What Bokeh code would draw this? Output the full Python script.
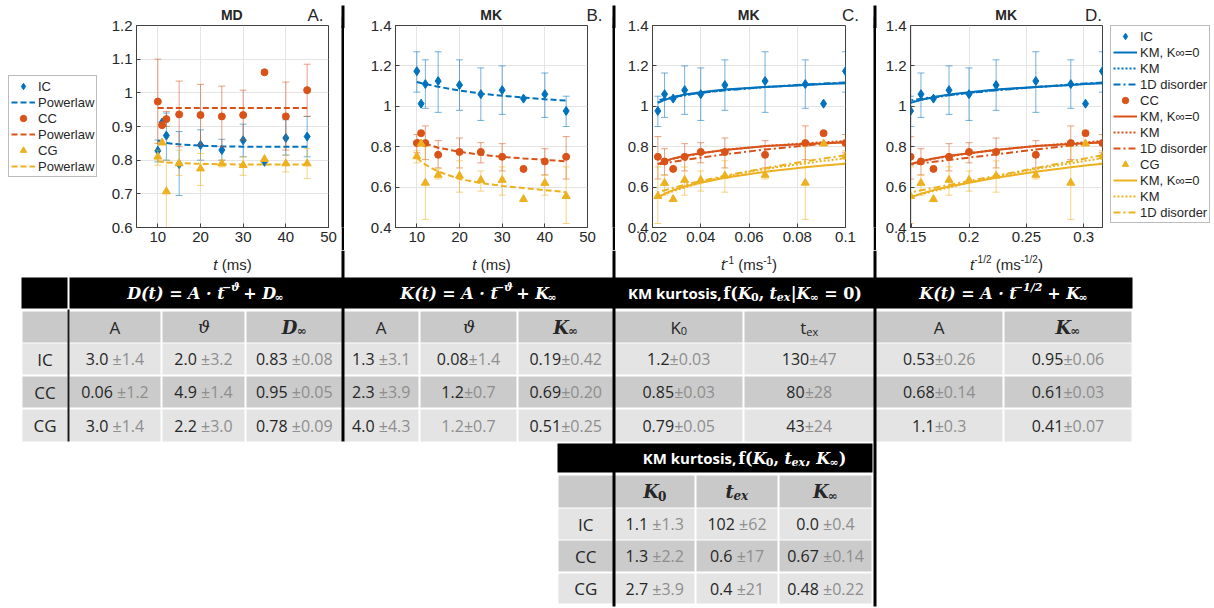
import numpy as np
from bokeh.plotting import figure
from bokeh.layouts import row, column
from bokeh.models import (Range1d, FixedTicker, Legend, LegendItem, ColumnDataSource, Spacer)
from bokeh.embed import file_html
from bokeh.resources import INLINE

# ------------------------------------------------------------------ data
t_ms = [10, 11, 12, 15, 20, 25, 30, 35, 40, 45]
groups = ["IC", "CC", "CG"]

# Panel A : MD
md_ic    = [0.828, 0.912, 0.873, 0.788, 0.845, 0.830, 0.859, 0.795, 0.866, 0.870]
md_ic_lo = [0.795, 0.912, 0.800, 0.695, 0.800, 0.800, 0.810, 0.795, 0.815, 0.810]
md_ic_hi = [0.860, 0.912, 0.940, 0.885, 0.890, 0.862, 0.907, 0.795, 0.920, 0.930]
md_cc    = [0.974, 0.904, 0.922, 0.936, 0.934, 0.930, 0.934, 1.061, 0.930, 1.008]
md_cc_lo = [0.850, 0.904, 0.900, 0.840, 0.845, 0.840, 0.860, 1.061, 0.830, 0.930]
md_cc_hi = [1.100, 0.904, 0.945, 1.035, 1.025, 1.020, 1.008, 1.061, 1.032, 1.085]
md_cg    = [0.810, 0.852, 0.707, 0.790, 0.775, 0.790, 0.785, 0.803, 0.790, 0.790]
md_cg_lo = [0.785, 0.852, 0.580, 0.755, 0.725, 0.780, 0.755, 0.803, 0.765, 0.745]
md_cg_hi = [0.830, 0.852, 0.800, 0.830, 0.820, 0.800, 0.810, 0.803, 0.815, 0.835]
md_pow_ic = [0.858, 0.855, 0.851, 0.847, 0.843, 0.841, 0.840, 0.840, 0.840, 0.840]
md_pow_cc = [0.955, 0.955, 0.955, 0.955, 0.955, 0.955, 0.955, 0.955, 0.955, 0.955]
md_pow_cg = [0.797, 0.795, 0.793, 0.791, 0.789, 0.788, 0.787, 0.787, 0.787, 0.787]

# Panels B-D : MK
mk_ic    = [1.174, 1.013, 1.110, 1.125, 1.105, 1.060, 1.080, 1.038, 1.060, 0.977]
mk_ic_lo = [1.070, 1.013, 0.990, 0.970, 0.980, 0.930, 0.960, 1.038, 0.945, 0.900]
mk_ic_hi = [1.270, 1.013, 1.230, 1.270, 1.230, 1.190, 1.200, 1.038, 1.165, 1.050]
mk_cc    = [0.818, 0.867, 0.818, 0.760, 0.774, 0.774, 0.750, 0.690, 0.727, 0.750]
mk_cc_lo = [0.770, 0.867, 0.736, 0.695, 0.695, 0.720, 0.680, 0.690, 0.660, 0.640]
mk_cc_hi = [0.860, 0.867, 0.903, 0.830, 0.843, 0.820, 0.815, 0.690, 0.790, 0.850]
mk_cg    = [0.752, 0.815, 0.621, 0.660, 0.656, 0.635, 0.635, 0.540, 0.620, 0.555]
mk_cg_lo = [0.720, 0.815, 0.440, 0.640, 0.575, 0.580, 0.560, 0.540, 0.560, 0.420]
mk_cg_hi = [0.780, 0.815, 0.800, 0.690, 0.730, 0.680, 0.700, 0.540, 0.660, 0.700]
mk_pow_ic = [1.120, 1.115, 1.110, 1.097, 1.078, 1.063, 1.052, 1.043, 1.035, 1.028]
mk_pow_cc = [0.835, 0.825, 0.815, 0.795, 0.775, 0.760, 0.750, 0.742, 0.735, 0.728]
mk_pow_cg = [0.745, 0.727, 0.711, 0.677, 0.640, 0.620, 0.606, 0.595, 0.585, 0.575]
# model curves (KM with K_inf=0, KM, 1D disorder)
km0_ic = [1.114, 1.110, 1.106, 1.096, 1.083, 1.070, 1.058, 1.045, 1.032, 1.017]
km_ic  = [1.115, 1.111, 1.106, 1.095, 1.080, 1.067, 1.055, 1.043, 1.032, 1.020]
d1_ic  = [1.118, 1.113, 1.108, 1.095, 1.079, 1.066, 1.055, 1.046, 1.037, 1.029]
km0_cc = [0.821, 0.817, 0.813, 0.803, 0.784, 0.768, 0.755, 0.742, 0.728, 0.714]
km_cc  = [0.828, 0.822, 0.817, 0.803, 0.785, 0.767, 0.752, 0.740, 0.727, 0.713]
d1_cc  = [0.825, 0.815, 0.806, 0.786, 0.762, 0.746, 0.734, 0.725, 0.718, 0.711]
km0_cg = [0.716, 0.707, 0.698, 0.676, 0.646, 0.622, 0.603, 0.585, 0.567, 0.549]
km_cg  = [0.742, 0.730, 0.718, 0.690, 0.652, 0.622, 0.598, 0.580, 0.565, 0.552]
d1_cg  = [0.758, 0.742, 0.728, 0.694, 0.656, 0.630, 0.611, 0.596, 0.584, 0.574]

# tick marks / labels
xt_t = [10, 20, 30, 40, 50];             xt_t_lbl = ["10", "20", "30", "40", "50"]
xt_inv = [0.02, 0.04, 0.06, 0.08, 0.1];  xt_inv_lbl = ["0.02", "0.04", "0.06", "0.08", "0.1"]
xt_sq = [0.15, 0.2, 0.25, 0.3];          xt_sq_lbl = ["0.15", "0.2", "0.25", "0.3"]
yt_md = [0.6, 0.7, 0.8, 0.9, 1.0, 1.1, 1.2]
yt_md_lbl = ["0.6", "0.7", "0.8", "0.9", "1", "1.1", "1.2"]
yt_mk = [0.4, 0.6, 0.8, 1.0, 1.2, 1.4]
yt_mk_lbl = ["0.4", "0.6", "0.8", "1", "1.2", "1.4"]

panel_titles = ["MD", "MK", "MK", "MK"]
panel_letters = ["A.", "B.", "C.", "D."]

# table values
row_names = ["IC", "CC", "CG"]
D_A, D_A_e = ["3.0", "0.06", "3.0"], [" ±1.4", " ±1.2", " ±1.4"]
D_th, D_th_e = ["2.0", "4.9", "2.2"], [" ±3.2", " ±1.4", " ±3.0"]
D_inf, D_inf_e = ["0.83", "0.95", "0.78"], [" ±0.08", " ±0.05", " ±0.09"]
K_A, K_A_e = ["1.3", "2.3", "4.0"], [" ±3.1", " ±3.9", " ±4.3"]
K_th, K_th_e = ["0.08", "1.2", "1.2"], ["±1.4", "±0.7", "±0.7"]
K_inf, K_inf_e = ["0.19", "0.69", "0.51"], ["±0.42", "±0.20", "±0.25"]
KM0_K0, KM0_K0_e = ["1.2", "0.85", "0.79"], ["±0.03", "±0.03", "±0.05"]
KM0_tex, KM0_tex_e = ["130", "80", "43"], ["±47", "±28", "±24"]
OD_A, OD_A_e = ["0.53", "0.68", "1.1"], ["±0.26", "±0.14", "±0.3"]
OD_inf, OD_inf_e = ["0.95", "0.61", "0.41"], ["±0.06", "±0.03", "±0.07"]
KM_K0, KM_K0_e = ["1.1", "1.3", "2.7"], [" ±1.3", " ±2.2", " ±3.9"]
KM_tex, KM_tex_e = ["102", "0.6", "0.4"], [" ±62", " ±17", " ±21"]
KM_inf, KM_inf_e = ["0.0", "0.67", "0.48"], [" ±0.4", " ±0.14", " ±0.22"]

# ------------------------------------------------------------------ style
BLUE, ORANGE, YELLOW = "#0072BD", "#D95319", "#EDB120"
COL = {"IC": BLUE, "CC": ORANGE, "CG": YELLOW}
MARK = {"IC": "diamond", "CC": "circle", "CG": "triangle"}
MSIZE = {"IC": 9, "CC": 7, "CG": 8}
AXC = "#404040"
TXT = "#262626"
SANS_AX = "Liberation Sans"
PAGE_W = 1214
STRIP_H = 28         # page y 0 .. 28 (titles)
OVERLAP = 12         # chart row starts at y 16, under the strip's lower part
ROW_H = 234          # chart row: page y 16 .. 250
FR_TOP, FR_H = 9, 202
FR_BOT = ROW_H - FR_TOP - FR_H
BOT_H = 358          # page y 250 .. 608


def blank(width, height, xr, yr):
    f = figure(width=width, height=height, x_range=Range1d(*xr), y_range=Range1d(*yr),
               output_backend="svg", toolbar_location=None, min_border=0,
               x_axis_location=None, y_axis_location=None)
    f.xgrid.visible = False
    f.ygrid.visible = False
    f.outline_line_color = None
    return f


def chart(width, left, right, xr, yr, xt, xtl, yt, ytl):
    p = figure(width=width, height=ROW_H, x_range=Range1d(*xr), y_range=Range1d(*yr),
               output_backend="svg", toolbar_location=None,
               min_border_left=left, min_border_right=right,
               min_border_top=FR_TOP, min_border_bottom=FR_BOT)
    p.border_fill_alpha = 0
    p.outline_line_color = AXC
    p.outline_line_width = 1
    p.xaxis.ticker = FixedTicker(ticks=xt)
    p.yaxis.ticker = FixedTicker(ticks=yt)
    p.xaxis.major_label_overrides = {k: v for k, v in zip(xt, xtl)}
    p.yaxis.major_label_overrides = {k: v for k, v in zip(yt, ytl)}
    for ax in (p.xaxis[0], p.yaxis[0]):
        ax.axis_line_color = AXC
        ax.major_tick_line_color = AXC
        ax.major_tick_in = 4
        ax.major_tick_out = 0
        ax.minor_tick_line_color = None
        ax.major_label_text_font = SANS_AX
        ax.major_label_text_font_size = "15px"
        ax.major_label_text_color = TXT
        ax.major_label_standoff = 4
    p.xgrid.grid_line_color = "#e4e4e4"
    p.ygrid.grid_line_color = "#e4e4e4"
    return p


def points(p, x, v, lo, hi, g):
    c = COL[g]
    xs = [a for a, l, h in zip(x, lo, hi) if h > l]
    l2 = [l for l, h in zip(lo, hi) if h > l]
    h2 = [h for l, h in zip(lo, hi) if h > l]
    p.segment(x0=xs, y0=l2, x1=xs, y1=h2, line_color=c, line_alpha=0.55, line_width=1)
    p.scatter(x=xs + xs, y=l2 + h2, marker="dash", size=7, line_color=c, line_alpha=0.55)
    return p.scatter(x=x, y=v, marker=MARK[g], size=MSIZE[g], fill_color=c, line_color=c)


DASH = {"pow": "6 3", "km0": "solid", "km": "2 2", "d1": "7 3 2 3"}


def legend_fig(width, height, spec, item_h, margin):
    # the series are drawn here outside the visible range; only the legend shows
    f = blank(width, height, (0, 1), (0, 1))
    f.border_fill_alpha = 0
    f.background_fill_alpha = 0
    items = []
    for label, kind, g, xs, ys in spec:
        if kind == "pts":
            r = f.scatter(x=xs, y=ys, marker=MARK[g], size=MSIZE[g], fill_color=COL[g],
                          line_color=COL[g])
        else:
            r = f.line(x=xs, y=ys, line_color=COL[g], line_width=2, line_dash=DASH[kind])
        items.append(LegendItem(label=label, renderers=[r]))
    lg = Legend(items=items, location="top_left")
    lg.label_text_font = SANS_AX
    lg.label_text_font_size = "13px"
    lg.label_text_color = TXT
    lg.glyph_width = 24
    lg.glyph_height = item_h
    lg.label_height = item_h
    lg.spacing = 0
    lg.padding = 2
    lg.margin = margin
    lg.label_standoff = 3
    lg.border_line_color = "#7a7a7a"
    f.add_layout(lg)
    return f


# ---------------- panel A
pA = chart(241, 36, 13, (5, 50), (0.6, 1.2), xt_t, xt_t_lbl, yt_md, yt_md_lbl)
md = {"IC": (md_ic, md_ic_lo, md_ic_hi, md_pow_ic),
      "CC": (md_cc, md_cc_lo, md_cc_hi, md_pow_cc),
      "CG": (md_cg, md_cg_lo, md_cg_hi, md_pow_cg)}
specA = []
for g in groups:
    v, lo, hi, fit = md[g]
    points(pA, t_ms, v, lo, hi, g)
    pA.line(t_ms, fit, line_color=COL[g], line_width=2, line_dash=DASH["pow"])
    specA += [(g, "pts", g, t_ms, v), ("Powerlaw", "pow", g, t_ms, fit)]
legA = column(Spacer(width=100, height=51),
              legend_fig(100, ROW_H - 51, specA, 16, 8))

mk = {"IC": (mk_ic, mk_ic_lo, mk_ic_hi), "CC": (mk_cc, mk_cc_lo, mk_cc_hi),
      "CG": (mk_cg, mk_cg_lo, mk_cg_hi)}
mk_pow = {"IC": mk_pow_ic, "CC": mk_pow_cc, "CG": mk_pow_cg}
models = {"IC": (km0_ic, km_ic, d1_ic), "CC": (km0_cc, km_cc, d1_cc),
          "CG": (km0_cg, km_cg, d1_cg)}

# ---------------- panel B
pB = chart(268, 51, 25, (5, 50), (0.4, 1.4), xt_t, xt_t_lbl, yt_mk, yt_mk_lbl)
for g in groups:
    v, lo, hi = mk[g]
    points(pB, t_ms, v, lo, hi, g)
    pB.line(t_ms, mk_pow[g], line_color=COL[g], line_width=2, line_dash=DASH["pow"])

# ---------------- panels C, D
t_arr = np.array(t_ms, dtype=float)
x_inv = list(1.0 / t_arr)
x_sq = list(t_arr ** -0.5)


def model_panel(width, left, right, x, xr, xt, xtl):
    p = chart(width, left, right, xr, (0.4, 1.4), xt, xtl, yt_mk, yt_mk_lbl)
    for g in groups:
        v, lo, hi = mk[g]
        points(p, x, v, lo, hi, g)
        k0, km, d1 = models[g]
        p.line(x, k0, line_color=COL[g], line_width=2)
        p.line(x, km, line_color=COL[g], line_width=2, line_dash=DASH["km"])
        p.line(x, d1, line_color=COL[g], line_width=2, line_dash=DASH["d1"])
    return p


pC = model_panel(258, 37, 28, x_inv, (0.02, 0.1), xt_inv, xt_inv_lbl)
pD = model_panel(230, 34, 4, x_sq, (0.149, 0.3163), xt_sq, xt_sq_lbl)
specD = []
for g in groups:
    k0, km, d1 = models[g]
    specD += [(g, "pts", g, t_ms, mk[g][0]), ("KM, K∞=0", "km0", g, t_ms, k0),
              ("KM", "km", g, t_ms, km), ("1D disorder", "d1", g, t_ms, d1)]
legD = column(Spacer(width=108, height=5), legend_fig(108, ROW_H - 5, specD, 16, 4))


def sep():
    f = blank(3, ROW_H, (0, 1), (0, 1))
    f.background_fill_color = "#000000"
    f.border_fill_color = "#000000"
    return f


mid = row(legA, pA, sep(), pB, sep(), pC, sep(), pD, legD, margin=(-OVERLAP, 0, 0, 0))

# ------------------------------------------------------------------ rich text helpers
W_SANS = {**{d: .572 for d in "0123456789"}, ".": .266, ",": .245, " ": .26, "±": .572,
          "A": .633, "C": .632, "G": .726, "I": .279, "K": .599, "M": .907, "e": .561,
          "x": .523, "t": .361, "k": .526, "u": .618, "r": .408, "o": .602, "s": .478,
          "i": .258}
W_SERIF = {"D": .83, "K": .82, "A": .78, "t": .45, "(": .47, ")": .47, " ": .33, "=": .80,
           "+": .80, "·": .35, "−": .80, "ϑ": .66, "∞": .84, "f": .44, "|": .37, ",": .35,
           "e": .63, "x": .63, "/": .37, "0": .70, "1": .70, "2": .70}
W_AX = {"t": .278, " ": .278, "(": .333, ")": .333, "m": .833, "s": .5, "-": .333,
        "1": .556, "2": .556, "/": .278, "M": .833, "D": .722, "K": .667, "A": .667,
        "B": .667, "C": .722, ".": .278}
FONTS = {"sans": "Open Sans", "serif": "DejaVu Serif", "arial": SANS_AX}
WT = {"sans": (W_SANS, .56), "serif": (W_SERIF, .65), "arial": (W_AX, .55)}


def tw(s, kind, size, style):
    tbl, d = WT[kind]
    w = sum(tbl.get(c, d) for c in s) * size
    return w * (1.06 if "bold" in style and kind != "serif" else 1.0)


def new_store():
    return dict(x=[], y=[], text=[], size=[], font=[], style=[], color=[])


def rich(store, cx, cy, pieces):
    total = sum(tw(s, k, sz, st) for s, k, sz, st, dy, c in pieces)
    x = cx - total / 2
    for s, k, sz, st, dy, c in pieces:
        body = s.lstrip(" ")
        x0 = x + tw(s[:len(s) - len(body)], k, sz, st)
        store["x"].append(x0); store["y"].append(cy + dy); store["text"].append(body.rstrip(" "))
        store["size"].append(f"{sz}px"); store["font"].append(FONTS[k])
        store["style"].append(st); store["color"].append(c)
        x += tw(s, k, sz, st)


def draw_text(f, store):
    f.text(x="x", y="y", text="text", text_font_size="size", text_font="font",
           text_font_style="style", text_color="color", text_align="left",
           text_baseline="middle", source=ColumnDataSource(store))


SEP_X = [342.5, 613.5, 874.5]
FRAME_CX = [232, 491, 748.5, 1006]
LETTER_X = [315, 594, 850, 1093]

# ------------------------------------------------------------------ top strip (titles)
strip = blank(PAGE_W, STRIP_H, (0, PAGE_W), (STRIP_H, 0))
st_txt = new_store()
for cx, ttl, lx, let in zip(FRAME_CX, panel_titles, LETTER_X, panel_letters):
    rich(st_txt, cx, 14.5, [(ttl, "arial", 14, "bold", 0, TXT)])
    rich(st_txt, lx, 14.5, [(let, "arial", 17, "normal", 0, TXT)])
draw_text(strip, st_txt)
strip.segment(x0=SEP_X, y0=[5, 5, 5], x1=SEP_X, y1=[STRIP_H] * 3, line_color="#000000",
              line_width=3)

# ------------------------------------------------------------------ bottom: labels + tables
tp = blank(PAGE_W, BOT_H, (0, PAGE_W), (608, 250))
txt = new_store()

AXL = [
    [("t", "arial", 15, "italic", 0, TXT), (" (ms)", "arial", 15, "normal", 0, TXT)],
    [("t", "arial", 15, "italic", 0, TXT), (" (ms)", "arial", 15, "normal", 0, TXT)],
    [("t", "arial", 15, "italic", 0, TXT), ("-1", "arial", 10, "normal", -5, TXT),
     (" (ms", "arial", 15, "normal", 0, TXT), ("-1", "arial", 10, "normal", -5, TXT),
     (")", "arial", 15, "normal", 0, TXT)],
    [("t", "arial", 15, "italic", 0, TXT), ("-1/2", "arial", 10, "normal", -5, TXT),
     (" (ms", "arial", 15, "normal", 0, TXT), ("-1/2", "arial", 10, "normal", -5, TXT),
     (")", "arial", 15, "normal", 0, TXT)],
]
for cx, pcs in zip(FRAME_CX, AXL):
    rich(txt, cx, 264, pcs)

WH, DARK, GREY = "#ffffff", "#262626", "#8e8e8e"
SUB_BG, LIGHT_BG, MID_BG = "#c9c9c9", "#e4e4e4", "#cbcbcb"
row_bg = [LIGHT_BG, MID_BG, LIGHT_BG]
cells = dict(left=[], right=[], top=[], bottom=[], color=[])


def cell(l, r, t, b, c):
    cells["left"].append(l); cells["right"].append(r)
    cells["top"].append(t); cells["bottom"].append(b); cells["color"].append(c)


def table(edges, head, sub, body, head_pieces, sub_pieces, cols, dim=()):
    cell(edges[0], edges[1] - 1, head[0], head[1], "#000000")
    cell(edges[1] + 1, edges[-1], head[0], head[1], "#000000")
    for cx, pcs in head_pieces:
        rich(txt, cx, (head[0] + head[1]) / 2, pcs)
    for i in range(len(edges) - 1):
        cell(edges[i] + 1, edges[i + 1] - 1, sub[0], sub[1], SUB_BG)
    for i, pcs in enumerate(sub_pieces):
        rich(txt, (edges[i + 1] + edges[i + 2]) / 2, (sub[0] + sub[1]) / 2, pcs)
    for r, (t, b) in enumerate(body):
        cy = (t + b) / 2
        for i in range(len(edges) - 1):
            cell(edges[i] + 1, edges[i + 1] - 1, t, b, row_bg[r])
        rich(txt, (edges[0] + edges[1]) / 2, cy, [(row_names[r], "sans", 17, "normal", 0, DARK)])
        for i, (vals, errs) in enumerate(cols):
            vc = GREY if (i, r) in dim else DARK
            rich(txt, (edges[i + 1] + edges[i + 2]) / 2, cy,
                 [(vals[r], "sans", 16, "normal", 0, vc), (errs[r], "sans", 16, "normal", 0, GREY)])


def S(s, sz=16, st="bold italic", dy=0, c=WH, k="serif"):
    return (s, k, sz, st, dy, c)


# table 1
E1 = [21, 68, 161, 245, 342.5, 419, 517, 613.5, 743, 874.5, 1003, 1132]
head1 = [
    (205, [S("D(t) = A · t"), S("−ϑ", 11, dy=-6), S(" + D"), S("∞", 11, "bold", 4)]),
    (478, [S("K(t) = A · t"), S("−ϑ", 11, dy=-6), S(" + K"), S("∞", 11, "bold", 4)]),
    (744, [S("KM kurtosis, ", 15, "bold", k="sans"), S("f(", st="bold"), S("K"),
           S("0", 11, "bold", 4), S(", ", st="bold"), S("t"), S("ex", 11, dy=4),
           S("|", st="bold"), S("K"), S("∞", 11, "bold", 4), S(" = 0)", st="bold")]),
    (1003, [S("K(t) = A · t"), S("−1/2", 11, dy=-6), S(" + K"), S("∞", 11, "bold", 4)]),
]
A_ = [S("A", 17, "normal", c=DARK, k="sans")]
TH_ = [S("ϑ", 17, "italic", c=DARK)]
sub1 = [A_, TH_, [S("D", 18, c=DARK), S("∞", 12, "bold", 4, DARK)],
        A_, TH_, [S("K", 18, c=DARK), S("∞", 12, "bold", 4, DARK)],
        [S("K", 17, "normal", c=DARK, k="sans"), S("0", 11, "normal", 4, DARK, "sans")],
        [S("t", 17, "normal", c=DARK, k="sans"), S("ex", 11, "normal", 4, DARK, "sans")],
        A_, [S("K", 18, c=DARK), S("∞", 12, "bold", 4, DARK)]]
cols1 = [(D_A, D_A_e), (D_th, D_th_e), (D_inf, D_inf_e), (K_A, K_A_e), (K_th, K_th_e),
         (K_inf, K_inf_e), (KM0_K0, KM0_K0_e), (KM0_tex, KM0_tex_e), (OD_A, OD_A_e),
         (OD_inf, OD_inf_e)]
table(E1, (277, 308), (311, 342), [(343, 374), (376, 407), (409, 441)], head1, sub1, cols1,
      dim={(4, 2)})

# table 2
E2 = [557, 613.5, 695, 778, 872]
head2 = [(744, [S("KM kurtosis, ", 15, "bold", k="sans"), S("f(", st="bold"), S("K"),
                S("0", 11, "bold", 4), S(", ", st="bold"), S("t"), S("ex", 11, dy=4),
                S(", ", st="bold"), S("K"), S("∞", 11, "bold", 4), S(")", st="bold")])]
sub2 = [[S("K", 18, c=DARK), S("0", 12, "bold", 4, DARK)],
        [S("t", 18, c=DARK), S("ex", 12, dy=4, c=DARK)],
        [S("K", 18, c=DARK), S("∞", 12, "bold", 4, DARK)]]
cols2 = [(KM_K0, KM_K0_e), (KM_tex, KM_tex_e), (KM_inf, KM_inf_e)]
table(E2, (443, 472), (475, 507), [(508, 539), (540, 571), (573, 603)], head2, sub2, cols2)

tp.quad(left="left", right="right", top="top", bottom="bottom", fill_color="color",
        line_color=None, source=ColumnDataSource(cells))
tp.segment(x0=SEP_X, y0=[250, 250, 250], x1=SEP_X, y1=[441, 606, 606],
           line_color="#000000", line_width=3)
tp.segment(x0=[68], y0=[309], x1=[68], y1=[441], line_color="#1a1a1a", line_width=2)
draw_text(tp, txt)

page = column(strip, mid, tp)
open("out.html", "w").write(file_html(page, INLINE))
